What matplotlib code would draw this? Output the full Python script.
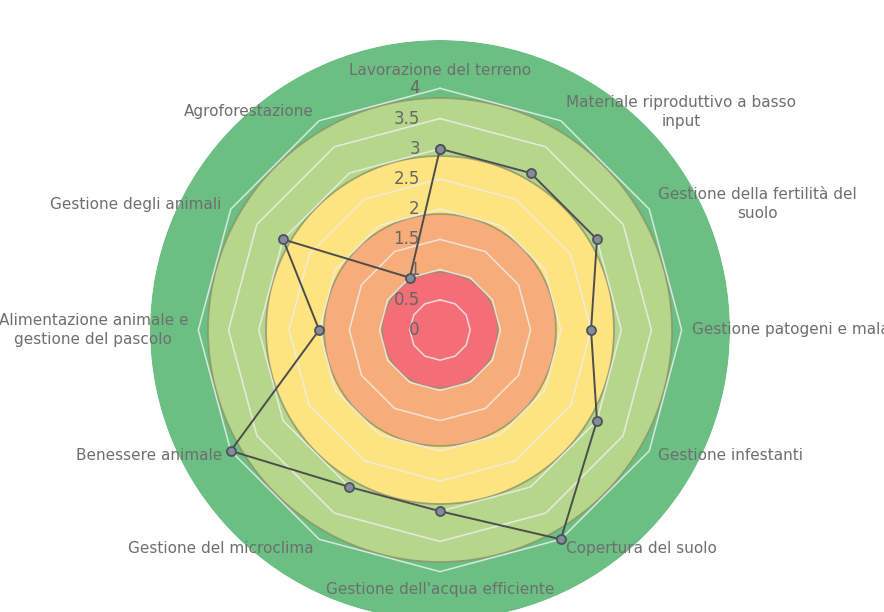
import numpy as np
import matplotlib
matplotlib.use("Agg")
import matplotlib.pyplot as plt

categories = [
    "Lavorazione del terreno",
    "Materiale riproduttivo a basso\ninput",
    "Gestione della fertilità del\nsuolo",
    "Gestione patogeni e malattie",
    "Gestione infestanti",
    "Copertura del suolo",
    "Gestione dell'acqua efficiente",
    "Gestione del microclima",
    "Benessere animale",
    "Alimentazione animale e\ngestione del pascolo",
    "Gestione degli animali",
    "Agroforestazione",
]
values = [3, 3, 3, 2.5, 3, 4, 3, 3, 4, 2, 3, 1]
tick_values = [0, 0.5, 1, 1.5, 2, 2.5, 3, 3.5, 4]
tick_labels = ["0", "0.5", "1", "1.5", "2", "2.5", "3", "3.5", "4"]
band_limits = [0.96, 1.92, 2.88, 3.84, 4.8]
band_colors = ["#f46e77", "#f7ad79", "#fde480", "#b6d78b", "#6cbf83"]

W, H = 884, 612
fig = plt.figure(figsize=(W / 100, H / 100), dpi=100)
cx, cy, rad = 440, 330, 290
ax = fig.add_axes([(cx - rad) / W, (H - cy - rad) / H, 2 * rad / W, 2 * rad / H],
                  projection="polar")
ax.set_theta_zero_location("N")
ax.set_theta_direction(-1)
ax.set_ylim(0, band_limits[-1])
ax.set_axis_off()

n = len(categories)
angles = np.arange(n) * 2 * np.pi / n
circ = np.linspace(0, 2 * np.pi, 400)

# concentric coloured bands (outermost first)
for i in range(len(band_limits) - 1, -1, -1):
    r = band_limits[i]
    ax.fill(circ, np.full_like(circ, r), color=band_colors[i], zorder=1, lw=0)
    if i < len(band_limits) - 1:
        ax.plot(circ, np.full_like(circ, r), color="#8b9468", lw=1.3, alpha=0.8, zorder=2)

# polygon grid lines
closed_angles = np.append(angles, angles[0])
for tv in tick_values[1:]:
    ax.plot(closed_angles, np.full_like(closed_angles, tv), color="#eeeeee",
            lw=1.1, alpha=0.85, zorder=3)

# series
closed_vals = values + values[:1]
ax.plot(closed_angles, closed_vals, color="#4d4d4d", lw=1.4, zorder=5,
        marker="o", markersize=6.5, markerfacecolor="#868b98",
        markeredgecolor="#4d525e", markeredgewidth=1.3)

# radial tick labels
for tv, tl in zip(tick_values, tick_labels):
    ax.annotate(tl, xy=(0, tv), xytext=(-14.5, 0), textcoords="offset points",
                ha="right", va="center", fontsize=12, color="#666666",
                zorder=6, annotation_clip=False)

# category labels
R_label = 4.17
for ang, lab in zip(angles, categories):
    deg = np.degrees(ang) % 360
    if np.isclose(deg, 0):
        ha, va = "center", "bottom"
    elif np.isclose(deg, 180):
        ha, va = "center", "top"
    elif deg < 180:
        ha, va = "left", "center"
    else:
        ha, va = "right", "center"
    ax.text(ang, R_label, lab, ha=ha, va=va, multialignment="center",
            fontsize=11, color="#6e6e6e", linespacing=1.35, zorder=6, clip_on=False)

fig.savefig("out.png", dpi=100, facecolor="white")
